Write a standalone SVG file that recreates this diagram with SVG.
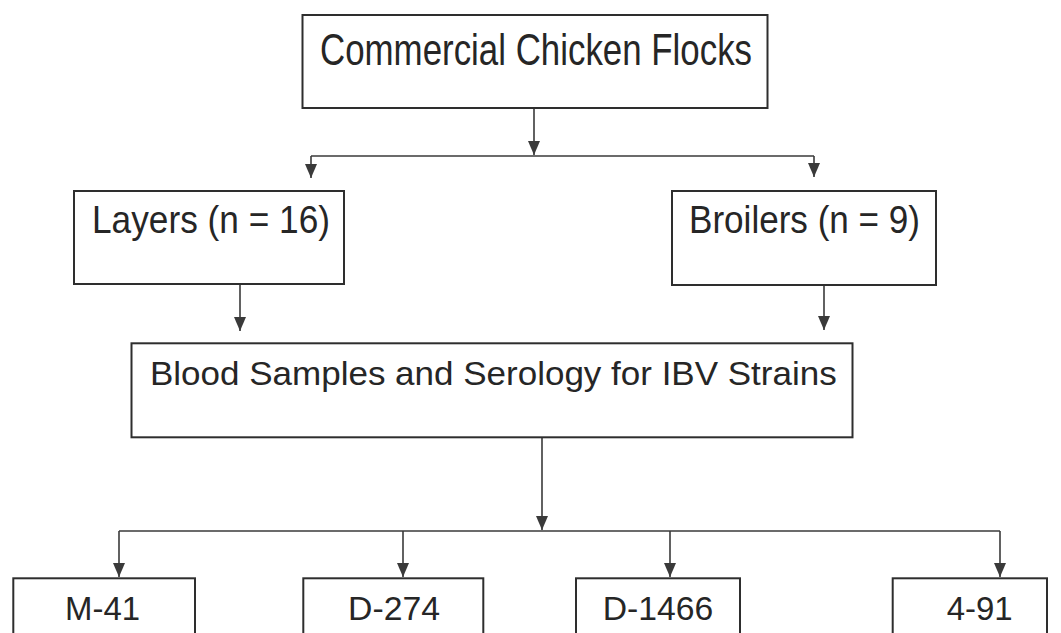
<svg xmlns="http://www.w3.org/2000/svg" width="1061" height="633" viewBox="0 0 1061 633">
  <style>
    .box { fill: #ffffff; stroke: #2e2e2e; stroke-width: 2; }
    .lbl { font-family: "Liberation Sans", Arial, sans-serif; fill: #262626; }
    .conn { fill: none; stroke: #3a3a3a; stroke-width: 1.6; }
  </style>
  <defs>
    <marker id="arr" markerUnits="userSpaceOnUse" viewBox="0 0 14 12" refX="14" refY="6" markerWidth="14" markerHeight="12" orient="auto">
      <path d="M0,0 L14,6 L0,12 z" fill="#3a3a3a"/>
    </marker>
  </defs>
  <rect width="1061" height="633" fill="#ffffff"/>

  <g id="connectors">
    <line class="conn" x1="534" y1="108" x2="534" y2="155" marker-end="url(#arr)"/>
    <line class="conn" x1="311" y1="156" x2="814" y2="156"/>
    <line class="conn" x1="311" y1="156" x2="311" y2="178" marker-end="url(#arr)"/>
    <line class="conn" x1="814" y1="156" x2="814" y2="177" marker-end="url(#arr)"/>
    <line class="conn" x1="240" y1="284" x2="240" y2="331" marker-end="url(#arr)"/>
    <line class="conn" x1="824" y1="285" x2="824" y2="330" marker-end="url(#arr)"/>
    <line class="conn" x1="542" y1="437" x2="542" y2="530" marker-end="url(#arr)"/>
    <line class="conn" x1="119" y1="531" x2="1000" y2="531"/>
    <line class="conn" x1="119" y1="531" x2="119" y2="577" marker-end="url(#arr)"/>
    <line class="conn" x1="403" y1="531" x2="403" y2="577" marker-end="url(#arr)"/>
    <line class="conn" x1="670" y1="531" x2="670" y2="577" marker-end="url(#arr)"/>
    <line class="conn" x1="1000" y1="531" x2="1000" y2="577" marker-end="url(#arr)"/>
  </g>

  <g id="node-flocks">
    <rect class="box" x="302.5" y="15" width="465" height="93"/>
    <text class="lbl" x="320" y="65" font-size="44" textLength="432" lengthAdjust="spacingAndGlyphs">Commercial Chicken Flocks</text>
  </g>
  <g id="node-layers">
    <rect class="box" x="74" y="191" width="270" height="93"/>
    <text class="lbl" x="92" y="232.7" font-size="38.5" textLength="238" lengthAdjust="spacingAndGlyphs">Layers (n = 16)</text>
  </g>
  <g id="node-broilers">
    <rect class="box" x="672" y="191" width="264" height="94"/>
    <text class="lbl" x="689" y="233.3" font-size="38.5" textLength="231" lengthAdjust="spacingAndGlyphs">Broilers (n = 9)</text>
  </g>
  <g id="node-blood">
    <rect class="box" x="131.5" y="343.3" width="721" height="94"/>
    <text class="lbl" x="150" y="385" font-size="33.5" textLength="686.7" lengthAdjust="spacingAndGlyphs">Blood Samples and Serology for IBV Strains</text>
  </g>
  <g id="node-m41">
    <rect class="box" x="13.3" y="578.3" width="181.7" height="80"/>
    <text class="lbl" x="65" y="620" font-size="32.5" textLength="75" lengthAdjust="spacingAndGlyphs">M-41</text>
  </g>
  <g id="node-d274">
    <rect class="box" x="303.3" y="578.3" width="180" height="80"/>
    <text class="lbl" x="348" y="620" font-size="32.5" textLength="92" lengthAdjust="spacingAndGlyphs">D-274</text>
  </g>
  <g id="node-d1466">
    <rect class="box" x="576" y="578.3" width="164" height="80"/>
    <text class="lbl" x="602.7" y="620" font-size="32.5" textLength="110.6" lengthAdjust="spacingAndGlyphs">D-1466</text>
  </g>
  <g id="node-491">
    <rect class="box" x="892.7" y="578.3" width="154.3" height="80"/>
    <text class="lbl" x="946.7" y="620" font-size="32.5" textLength="66" lengthAdjust="spacingAndGlyphs">4-91</text>
  </g>
</svg>
